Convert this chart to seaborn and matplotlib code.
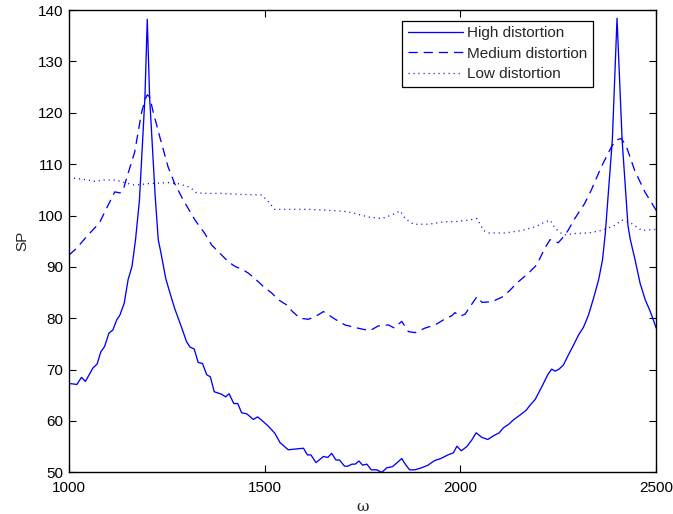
import numpy as np
import pandas as pd
import matplotlib
matplotlib.use("Agg")
import matplotlib.pyplot as plt
import seaborn as sns

# ---------------- data ----------------
high_x = [1000, 1012, 1020, 1032, 1042, 1061, 1072, 1081, 1091, 1102, 1112, 1122, 1130, 1141,
          1151, 1161, 1170, 1180, 1194, 1200, 1206, 1220, 1228, 1235, 1247, 1258, 1270, 1282,
          1290, 1300, 1309, 1320, 1330, 1341, 1352, 1361, 1371, 1390, 1400, 1409, 1421, 1431,
          1441, 1454, 1471, 1482, 1496, 1509, 1526, 1539, 1560, 1599, 1609, 1618, 1631, 1650,
          1661, 1671, 1682, 1691, 1704, 1712, 1723, 1731, 1741, 1750, 1761, 1772, 1786, 1799,
          1812, 1826, 1837, 1850, 1859, 1870, 1884, 1901, 1917, 1934, 1950, 1968, 1982, 1991,
          2002, 2016, 2029, 2040, 2055, 2070, 2084, 2099, 2110, 2124, 2135, 2153, 2168, 2178,
          2191, 2208, 2223, 2233, 2242, 2252, 2263, 2276, 2291, 2302, 2314, 2327, 2340, 2353,
          2363, 2370, 2388, 2400, 2413, 2428, 2434, 2446, 2459, 2472, 2485, 2500]
high_y = [67.3, 67.2, 67.1, 68.5, 67.7, 70.3, 71.1, 73.4, 74.5, 77.1, 77.7, 79.7, 80.6, 82.9,
          87.5, 90.1, 95.3, 103.0, 123.0, 138.2, 123.0, 104.0, 95.3, 92.7, 87.8, 84.9, 81.9, 79.4,
          77.7, 75.5, 74.4, 74.0, 71.4, 71.2, 69.0, 68.6, 65.7, 65.2, 64.7, 65.3, 63.4, 63.4,
          61.6, 61.4, 60.3, 60.8, 59.9, 59.0, 57.6, 55.8, 54.4, 54.7, 53.4, 53.4, 51.9, 53.1,
          52.9, 53.7, 52.4, 52.4, 51.2, 51.2, 51.6, 51.6, 52.2, 51.4, 51.6, 50.5, 50.5, 50.0,
          50.9, 51.1, 51.8, 52.7, 51.6, 50.5, 50.5, 50.9, 51.4, 52.3, 52.7, 53.4, 53.8, 55.1,
          54.2, 55.0, 56.3, 57.7, 56.8, 56.4, 57.1, 57.7, 58.7, 59.4, 60.2, 61.2, 62.1, 63.1,
          64.2, 66.7, 69.0, 70.1, 69.7, 70.1, 70.9, 72.9, 75.1, 76.8, 78.2, 80.6, 83.9, 87.5,
          91.4, 96.5, 114.7, 138.4, 114.7, 98.0, 95.3, 91.4, 86.8, 83.6, 81.3, 78.1]

med_x = [1000, 1019, 1044, 1078, 1096, 1117, 1130, 1138, 1151, 1168, 1185, 1194, 1200, 1206,
         1215, 1232, 1253, 1270, 1292, 1322, 1347, 1364, 1381, 1407, 1424, 1445, 1458, 1484,
         1496, 1518, 1535, 1556, 1571, 1590, 1612, 1633, 1650, 1680, 1705, 1731, 1748, 1769,
         1790, 1816, 1831, 1850, 1867, 1884, 1910, 1935, 1957, 1978, 1986, 1999, 2012, 2025,
         2042, 2055, 2080, 2106, 2123, 2148, 2174, 2195, 2216, 2229, 2250, 2267, 2275, 2292,
         2317, 2334, 2360, 2386, 2398, 2411, 2424, 2445, 2471, 2492, 2500]
med_y = [92.3, 93.6, 95.8, 98.6, 101.4, 104.6, 104.4, 104.9, 108.2, 112.4, 119.9, 122.5, 123.5,
         123.1, 120.2, 115.3, 109.5, 106.2, 103.0, 99.1, 96.5, 94.3, 93.0, 91.0, 90.1, 89.4,
         88.8, 87.1, 86.2, 84.9, 83.6, 82.6, 81.3, 80.0, 79.8, 80.5, 81.3, 79.8, 78.7, 78.2,
         77.9, 77.6, 78.5, 78.7, 78.1, 79.4, 77.4, 77.2, 78.1, 78.7, 79.7, 80.5, 81.1, 80.4,
         80.8, 82.3, 84.2, 83.1, 83.2, 84.1, 85.2, 87.1, 88.8, 90.4, 93.7, 95.3, 94.7, 96.2,
         97.1, 99.4, 102.3, 104.9, 109.5, 113.4, 114.7, 115.0, 113.4, 108.8, 104.6, 102.0, 101.0]

low_x = [1000, 1010, 1049, 1070, 1083, 1104, 1121, 1142, 1168, 1202, 1253, 1279, 1309, 1326,
         1356, 1390, 1441, 1492, 1509, 1526, 1560, 1612, 1663, 1705, 1731, 1765, 1799, 1824,
         1846, 1859, 1880, 1918, 1961, 1987, 2020, 2042, 2059, 2072, 2114, 2157, 2191, 2212,
         2229, 2242, 2263, 2293, 2327, 2361, 2395, 2412, 2434, 2463, 2500]
low_y = [107.3, 107.3, 106.9, 106.6, 106.9, 106.9, 106.9, 106.4, 105.9, 106.2, 106.4, 106.2,
         105.5, 104.4, 104.3, 104.3, 104.1, 104.0, 102.7, 101.2, 101.2, 101.2, 101.0, 100.8,
         100.4, 99.7, 99.4, 100.1, 100.9, 99.4, 98.3, 98.3, 98.8, 98.8, 99.1, 99.4, 97.1, 96.6,
         96.6, 97.1, 97.8, 98.6, 99.1, 97.5, 96.2, 96.5, 96.6, 97.1, 98.1, 99.1, 98.6, 97.1, 97.3]

series_names = ["High distortion", "Medium distortion", "Low distortion"]
x_ticks = [1000, 1500, 2000, 2500]
y_ticks = [50, 60, 70, 80, 90, 100, 110, 120, 130, 140]

df = pd.concat([
    pd.DataFrame({"omega": high_x, "SP": high_y, "series": series_names[0]}),
    pd.DataFrame({"omega": med_x, "SP": med_y, "series": series_names[1]}),
    pd.DataFrame({"omega": low_x, "SP": low_y, "series": series_names[2]}),
], ignore_index=True)

# ---------------- style ----------------
sns.set_style("ticks")
plt.rcParams["font.family"] = ["Liberation Sans", "DejaVu Sans"]
plt.rcParams["xtick.direction"] = "in"
plt.rcParams["ytick.direction"] = "in"

fig = plt.figure(figsize=(6.73, 5.14), dpi=100)
ax = fig.add_axes([0.1025, 0.081, 0.8725, 0.8995])

blue = (0.0, 0.0, 1.0)
sns.lineplot(data=df, x="omega", y="SP", hue="series", style="series",
             hue_order=series_names, style_order=series_names,
             palette=[blue, blue, blue],
             dashes={series_names[0]: "", series_names[1]: (7, 4.5), series_names[2]: (0.8, 3.0)},
             estimator=None, sort=False, linewidth=0.95, legend=False, ax=ax)

ax.set_xlim(1000, 2500)
ax.set_ylim(50, 140)
ax.set_xticks(x_ticks)
ax.set_yticks(y_ticks)
ax.tick_params(axis="both", which="both", direction="in", length=5, width=0.8,
               top=True, right=True, labelsize=11, colors="black")
ax.tick_params(axis="x", pad=6)
ax.tick_params(axis="y", pad=4)
for s in ax.spines.values():
    s.set_visible(True)
    s.set_linewidth(1.0)
    s.set_color("black")

ax.set_xlabel("ω", fontsize=11, family=["DejaVu Serif"], labelpad=4)
ax.set_ylabel("SP", fontsize=11, labelpad=6)

leg = ax.legend(handles=ax.lines[:3], labels=series_names, loc="upper right",
                bbox_to_anchor=(593 / 673, 1 - 21 / 514), bbox_transform=fig.transFigure,
                fontsize=11, frameon=True, fancybox=False, framealpha=1,
                handlelength=3.6, handletextpad=0.3, borderpad=0.35, labelspacing=0.42,
                borderaxespad=0)
leg.get_frame().set_edgecolor("black")
leg.get_frame().set_linewidth(0.9)

fig.savefig("out.png", dpi=100)
